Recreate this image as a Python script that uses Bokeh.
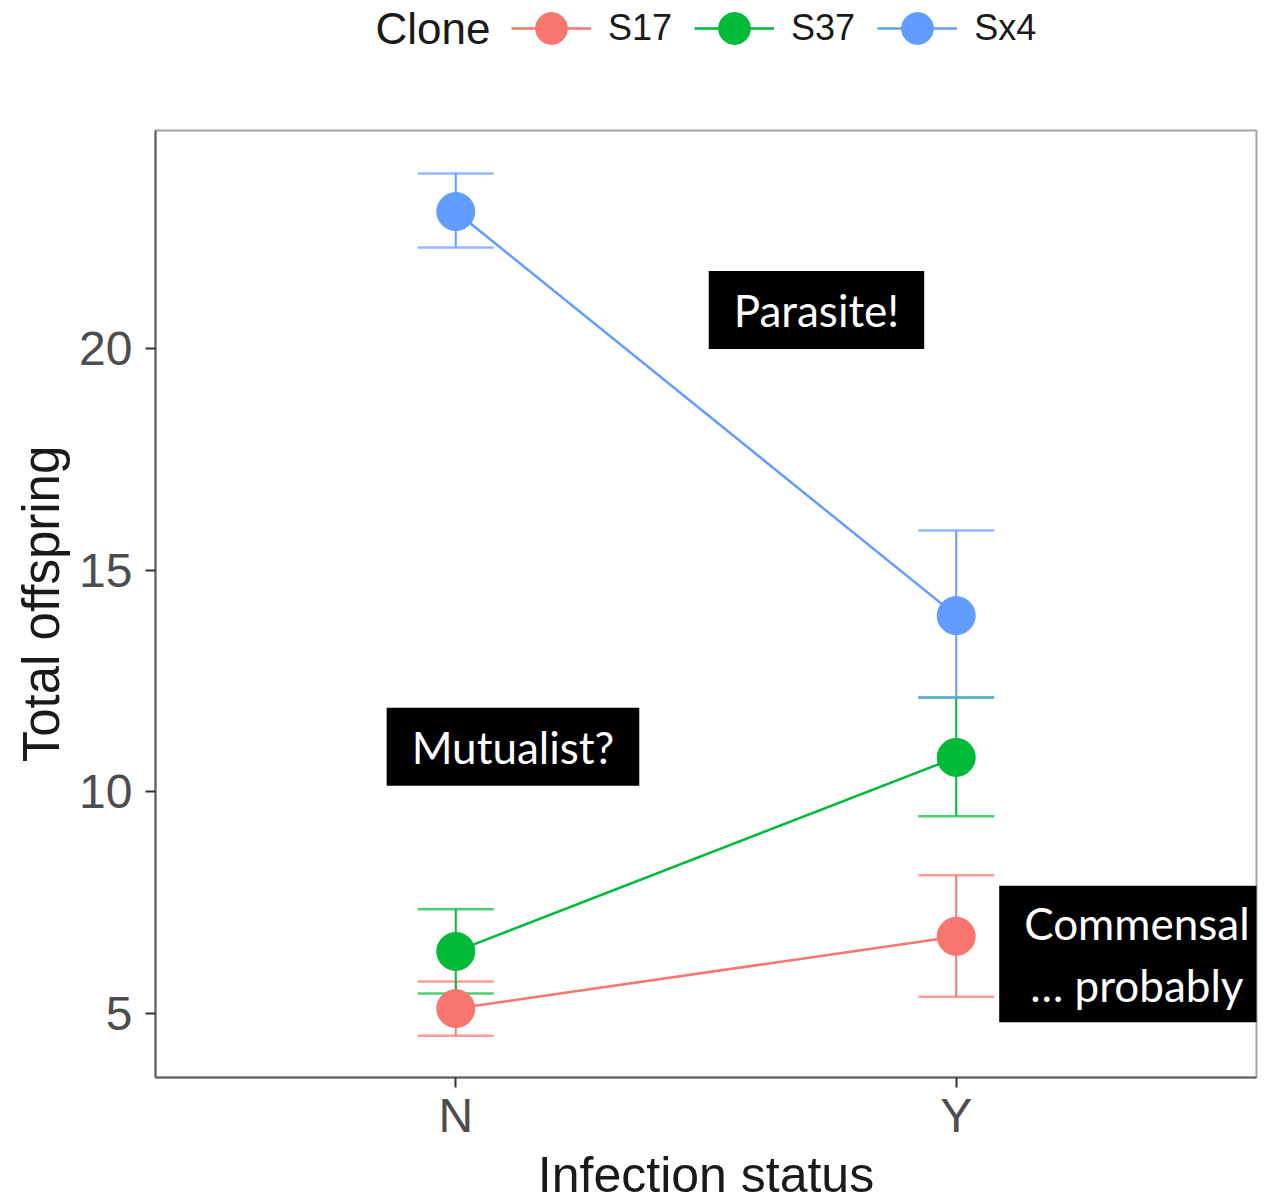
from bokeh.plotting import figure
from bokeh.layouts import column
from bokeh.models import (ColumnDataSource, Whisker, TeeHead, Legend, LegendItem,
                          FixedTicker, Label)
from bokeh.embed import file_html
from bokeh.resources import INLINE

# ---------------- data ----------------
clones = ["S17", "S37", "Sx4"]
colors = ["#F8766D", "#00BA38", "#619CFF"]
status_labels = ["N", "Y"]
status_pos = [1, 2]

mean_S17 = [5.11, 6.74]
low_S17 = [4.50, 5.38]
high_S17 = [5.72, 8.12]

mean_S37 = [6.40, 10.78]
low_S37 = [5.45, 9.45]
high_S37 = [7.35, 12.13]

mean_Sx4 = [23.10, 13.98]
low_Sx4 = [22.29, 12.13]
high_Sx4 = [23.96, 15.90]

y_ticks = [5, 10, 15, 20]

means = [mean_S17, mean_S37, mean_Sx4]
lows = [low_S17, low_S37, low_Sx4]
highs = [high_S17, high_S37, high_Sx4]

FONT = "Liberation Sans"

# ---------------- legend strip ----------------
leg = figure(frame_width=1101, frame_height=60, x_range=(155, 1256), y_range=(60, 0),
             output_backend="svg", toolbar_location=None,
             x_axis_location=None, y_axis_location=None,
             min_border_left=155, min_border_right=9,
             min_border_top=0, min_border_bottom=0, outline_line_color=None)
leg.grid.visible = False
leg.background_fill_color = "white"
leg.border_fill_color = "white"

items = []
for n, c, m in zip(clones, colors, means):
    lr = leg.line(status_pos, m, line_color=c, line_width=2.5, visible=False)
    sr = leg.scatter(status_pos, m, size=38, fill_color=c, line_color=c, visible=False)
    items.append(LegendItem(label=n, renderers=[lr, sr]))

legend = Legend(items=items, orientation="horizontal", location=(356, -8),
                glyph_width=80, glyph_height=80, padding=0, spacing=22, margin=0,
                label_standoff=17, label_text_font=FONT,
                label_text_font_size="36px", label_text_color="#1A1A1A",
                border_line_color=None, background_fill_alpha=0)
leg.add_layout(legend)
leg.add_layout(Label(x=375, y=28, text="Clone", text_font=FONT,
                     text_font_size="44px", text_color="#1A1A1A",
                     text_align="left", text_baseline="middle"))

# ---------------- main plot ----------------
p = figure(frame_width=1101, frame_height=947,
           x_range=(0.4, 2.6), y_range=(3.555, 24.93),
           output_backend="svg", toolbar_location=None,
           min_border_left=155, min_border_right=9,
           min_border_top=70, min_border_bottom=100,
           x_axis_label="Infection status", y_axis_label="Total offspring")

p.background_fill_color = "white"
p.border_fill_color = "white"
p.outline_line_color = "#A6A6A6"
p.outline_line_width = 2
p.xgrid.visible = False
p.ygrid.visible = False

p.xaxis.ticker = FixedTicker(ticks=status_pos)
p.xaxis.major_label_overrides = dict(zip(status_pos, status_labels))
p.yaxis.ticker = FixedTicker(ticks=y_ticks)

for ax in (p.xaxis[0], p.yaxis[0]):
    ax.axis_line_color = "#5E5E5E"
    ax.axis_line_width = 2
    ax.major_tick_line_color = "#333333"
    ax.major_tick_line_width = 2
    ax.major_tick_out = 10
    ax.major_tick_in = 0
    ax.minor_tick_out = 0
    ax.minor_tick_in = 0
    ax.major_label_text_font = FONT
    ax.major_label_text_font_size = "48px"
    ax.major_label_text_color = "#4D4D4D"
    ax.axis_label_text_font = FONT
    ax.axis_label_text_font_style = "normal"
    ax.axis_label_text_color = "#1A1A1A"

p.xaxis.axis_label_text_font_size = "50px"
p.yaxis.axis_label_text_font_size = "51px"
p.xaxis.major_label_standoff = 1
p.xaxis.axis_label_standoff = 2
p.yaxis.major_label_standoff = 13
p.yaxis.axis_label_standoff = 6

# error bars
for c, lo, hi in zip(colors, lows, highs):
    src = ColumnDataSource(dict(x=status_pos, lower=lo, upper=hi))
    w = Whisker(base="x", lower="lower", upper="upper", source=src,
                dimension="height", line_color=c, line_width=2,
                upper_head=TeeHead(size=76, line_color=c, line_width=2.5, line_alpha=0.7),
                lower_head=TeeHead(size=76, line_color=c, line_width=2.5, line_alpha=0.7))
    p.add_layout(w)

for c, m in zip(colors, means):
    p.line(status_pos, m, line_color=c, line_width=2.5)

for c, m in zip(colors, means):
    p.scatter(status_pos, m, size=38, fill_color=c, line_color=c)

ANN_FONT = "Lato"
notes = [
    (1.7207, 20.88, "Parasite!", 13),
    (1.1143, 11.02, "Mutualist?", 13),
    (2.361, 6.343, "Commensal\n\u2026 probably", 11),
]
for x, y, t, pv in notes:
    p.add_layout(Label(x=x, y=y, text=t, text_font=ANN_FONT, text_font_size="44px",
                       text_color="white", text_align="center", text_baseline="middle",
                       background_fill_color="black", background_fill_alpha=1.0,
                       padding=(25, pv)))

layout = column(leg, p, spacing=0)
open("out.html", "w").write(file_html(layout, INLINE))
